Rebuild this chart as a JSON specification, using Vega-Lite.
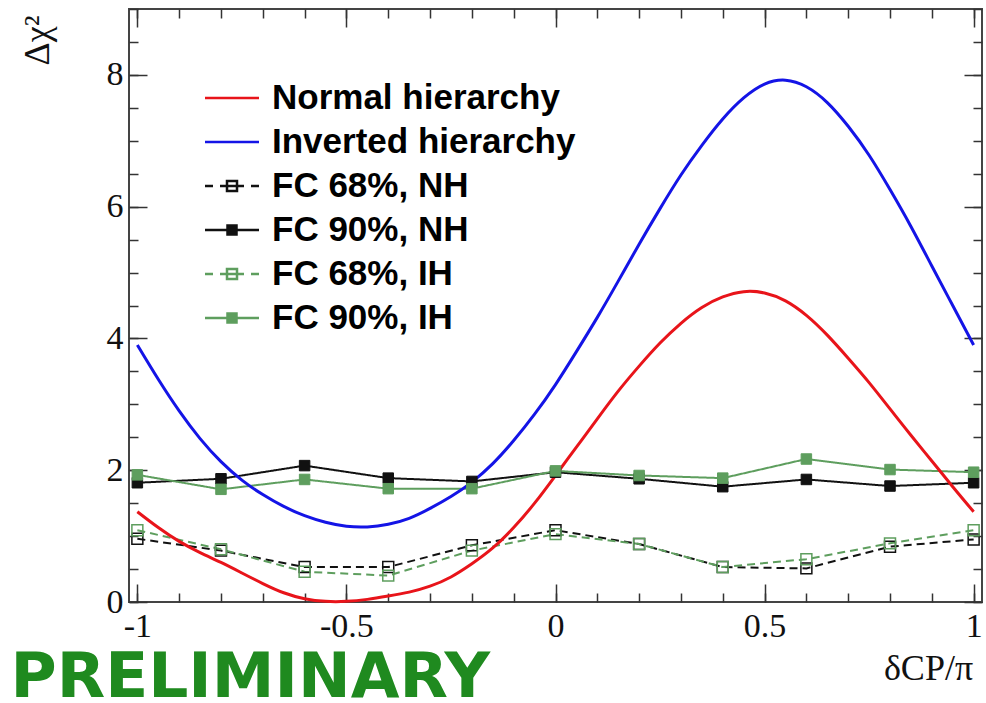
{
  "$schema": "https://vega.github.io/schema/vega-lite/v6.json",
  "width": 853,
  "height": 593,
  "autosize": "none",
  "padding": {"left": 129, "top": 9, "right": 4, "bottom": 101},
  "background": "white",
  "config": {
    "view": {"stroke": "#444", "strokeWidth": 2},
    "axis": {"grid": false, "domain": false, "tickColor": "#333", "tickWidth": 1.5}
  },
  "datasets": {
    "curves": [
      {"x": -1.0, "y": 1.37, "series": "Normal hierarchy"},
      {"x": -0.95, "y": 1.13, "series": "Normal hierarchy"},
      {"x": -0.9, "y": 0.92, "series": "Normal hierarchy"},
      {"x": -0.85, "y": 0.75, "series": "Normal hierarchy"},
      {"x": -0.8, "y": 0.6, "series": "Normal hierarchy"},
      {"x": -0.75, "y": 0.44, "series": "Normal hierarchy"},
      {"x": -0.7, "y": 0.28, "series": "Normal hierarchy"},
      {"x": -0.65, "y": 0.14, "series": "Normal hierarchy"},
      {"x": -0.6, "y": 0.05, "series": "Normal hierarchy"},
      {"x": -0.55, "y": 0.01, "series": "Normal hierarchy"},
      {"x": -0.5, "y": 0.01, "series": "Normal hierarchy"},
      {"x": -0.45, "y": 0.04, "series": "Normal hierarchy"},
      {"x": -0.4, "y": 0.09, "series": "Normal hierarchy"},
      {"x": -0.35, "y": 0.15, "series": "Normal hierarchy"},
      {"x": -0.3, "y": 0.24, "series": "Normal hierarchy"},
      {"x": -0.25, "y": 0.38, "series": "Normal hierarchy"},
      {"x": -0.2, "y": 0.58, "series": "Normal hierarchy"},
      {"x": -0.15, "y": 0.82, "series": "Normal hierarchy"},
      {"x": -0.1, "y": 1.13, "series": "Normal hierarchy"},
      {"x": -0.05, "y": 1.5, "series": "Normal hierarchy"},
      {"x": 0.0, "y": 1.92, "series": "Normal hierarchy"},
      {"x": 0.05, "y": 2.35, "series": "Normal hierarchy"},
      {"x": 0.1, "y": 2.78, "series": "Normal hierarchy"},
      {"x": 0.15, "y": 3.2, "series": "Normal hierarchy"},
      {"x": 0.2, "y": 3.58, "series": "Normal hierarchy"},
      {"x": 0.25, "y": 3.93, "series": "Normal hierarchy"},
      {"x": 0.3, "y": 4.23, "series": "Normal hierarchy"},
      {"x": 0.35, "y": 4.47, "series": "Normal hierarchy"},
      {"x": 0.4, "y": 4.63, "series": "Normal hierarchy"},
      {"x": 0.45, "y": 4.71, "series": "Normal hierarchy"},
      {"x": 0.5, "y": 4.69, "series": "Normal hierarchy"},
      {"x": 0.55, "y": 4.57, "series": "Normal hierarchy"},
      {"x": 0.6, "y": 4.35, "series": "Normal hierarchy"},
      {"x": 0.65, "y": 4.05, "series": "Normal hierarchy"},
      {"x": 0.7, "y": 3.7, "series": "Normal hierarchy"},
      {"x": 0.75, "y": 3.33, "series": "Normal hierarchy"},
      {"x": 0.8, "y": 2.93, "series": "Normal hierarchy"},
      {"x": 0.85, "y": 2.53, "series": "Normal hierarchy"},
      {"x": 0.9, "y": 2.14, "series": "Normal hierarchy"},
      {"x": 0.95, "y": 1.75, "series": "Normal hierarchy"},
      {"x": 1.0, "y": 1.37, "series": "Normal hierarchy"},
      {"x": -1.0, "y": 3.9, "series": "Inverted hierarchy"},
      {"x": -0.95, "y": 3.38, "series": "Inverted hierarchy"},
      {"x": -0.9, "y": 2.9, "series": "Inverted hierarchy"},
      {"x": -0.85, "y": 2.48, "series": "Inverted hierarchy"},
      {"x": -0.8, "y": 2.13, "series": "Inverted hierarchy"},
      {"x": -0.75, "y": 1.85, "series": "Inverted hierarchy"},
      {"x": -0.7, "y": 1.63, "series": "Inverted hierarchy"},
      {"x": -0.65, "y": 1.45, "series": "Inverted hierarchy"},
      {"x": -0.6, "y": 1.31, "series": "Inverted hierarchy"},
      {"x": -0.55, "y": 1.21, "series": "Inverted hierarchy"},
      {"x": -0.5, "y": 1.15, "series": "Inverted hierarchy"},
      {"x": -0.45, "y": 1.14, "series": "Inverted hierarchy"},
      {"x": -0.4, "y": 1.18, "series": "Inverted hierarchy"},
      {"x": -0.35, "y": 1.27, "series": "Inverted hierarchy"},
      {"x": -0.3, "y": 1.42, "series": "Inverted hierarchy"},
      {"x": -0.25, "y": 1.6, "series": "Inverted hierarchy"},
      {"x": -0.2, "y": 1.82, "series": "Inverted hierarchy"},
      {"x": -0.15, "y": 2.1, "series": "Inverted hierarchy"},
      {"x": -0.1, "y": 2.45, "series": "Inverted hierarchy"},
      {"x": -0.05, "y": 2.85, "series": "Inverted hierarchy"},
      {"x": 0.0, "y": 3.3, "series": "Inverted hierarchy"},
      {"x": 0.05, "y": 3.8, "series": "Inverted hierarchy"},
      {"x": 0.1, "y": 4.32, "series": "Inverted hierarchy"},
      {"x": 0.15, "y": 4.87, "series": "Inverted hierarchy"},
      {"x": 0.2, "y": 5.43, "series": "Inverted hierarchy"},
      {"x": 0.25, "y": 5.97, "series": "Inverted hierarchy"},
      {"x": 0.3, "y": 6.48, "series": "Inverted hierarchy"},
      {"x": 0.35, "y": 6.93, "series": "Inverted hierarchy"},
      {"x": 0.4, "y": 7.33, "series": "Inverted hierarchy"},
      {"x": 0.45, "y": 7.65, "series": "Inverted hierarchy"},
      {"x": 0.5, "y": 7.86, "series": "Inverted hierarchy"},
      {"x": 0.55, "y": 7.92, "series": "Inverted hierarchy"},
      {"x": 0.6, "y": 7.82, "series": "Inverted hierarchy"},
      {"x": 0.65, "y": 7.58, "series": "Inverted hierarchy"},
      {"x": 0.7, "y": 7.22, "series": "Inverted hierarchy"},
      {"x": 0.75, "y": 6.78, "series": "Inverted hierarchy"},
      {"x": 0.8, "y": 6.26, "series": "Inverted hierarchy"},
      {"x": 0.85, "y": 5.7, "series": "Inverted hierarchy"},
      {"x": 0.9, "y": 5.1, "series": "Inverted hierarchy"},
      {"x": 0.95, "y": 4.5, "series": "Inverted hierarchy"},
      {"x": 1.0, "y": 3.9, "series": "Inverted hierarchy"}
    ],
    "fc": [
      {"x": -1.0, "y": 0.96, "series": "FC 68%, NH"},
      {"x": -0.8, "y": 0.78, "series": "FC 68%, NH"},
      {"x": -0.6, "y": 0.53, "series": "FC 68%, NH"},
      {"x": -0.4, "y": 0.53, "series": "FC 68%, NH"},
      {"x": -0.2, "y": 0.86, "series": "FC 68%, NH"},
      {"x": 0.0, "y": 1.09, "series": "FC 68%, NH"},
      {"x": 0.2, "y": 0.88, "series": "FC 68%, NH"},
      {"x": 0.4, "y": 0.53, "series": "FC 68%, NH"},
      {"x": 0.6, "y": 0.51, "series": "FC 68%, NH"},
      {"x": 0.8, "y": 0.84, "series": "FC 68%, NH"},
      {"x": 1.0, "y": 0.95, "series": "FC 68%, NH"},
      {"x": -1.0, "y": 1.81, "series": "FC 90%, NH"},
      {"x": -0.8, "y": 1.87, "series": "FC 90%, NH"},
      {"x": -0.6, "y": 2.07, "series": "FC 90%, NH"},
      {"x": -0.4, "y": 1.88, "series": "FC 90%, NH"},
      {"x": -0.2, "y": 1.83, "series": "FC 90%, NH"},
      {"x": 0.0, "y": 1.97, "series": "FC 90%, NH"},
      {"x": 0.2, "y": 1.87, "series": "FC 90%, NH"},
      {"x": 0.4, "y": 1.75, "series": "FC 90%, NH"},
      {"x": 0.6, "y": 1.86, "series": "FC 90%, NH"},
      {"x": 0.8, "y": 1.76, "series": "FC 90%, NH"},
      {"x": 1.0, "y": 1.81, "series": "FC 90%, NH"},
      {"x": -1.0, "y": 1.09, "series": "FC 68%, IH"},
      {"x": -0.8, "y": 0.8, "series": "FC 68%, IH"},
      {"x": -0.6, "y": 0.46, "series": "FC 68%, IH"},
      {"x": -0.4, "y": 0.4, "series": "FC 68%, IH"},
      {"x": -0.2, "y": 0.78, "series": "FC 68%, IH"},
      {"x": 0.0, "y": 1.03, "series": "FC 68%, IH"},
      {"x": 0.2, "y": 0.88, "series": "FC 68%, IH"},
      {"x": 0.4, "y": 0.53, "series": "FC 68%, IH"},
      {"x": 0.6, "y": 0.65, "series": "FC 68%, IH"},
      {"x": 0.8, "y": 0.89, "series": "FC 68%, IH"},
      {"x": 1.0, "y": 1.09, "series": "FC 68%, IH"},
      {"x": -1.0, "y": 1.93, "series": "FC 90%, IH"},
      {"x": -0.8, "y": 1.71, "series": "FC 90%, IH"},
      {"x": -0.6, "y": 1.86, "series": "FC 90%, IH"},
      {"x": -0.4, "y": 1.72, "series": "FC 90%, IH"},
      {"x": -0.2, "y": 1.72, "series": "FC 90%, IH"},
      {"x": 0.0, "y": 1.99, "series": "FC 90%, IH"},
      {"x": 0.2, "y": 1.92, "series": "FC 90%, IH"},
      {"x": 0.4, "y": 1.88, "series": "FC 90%, IH"},
      {"x": 0.6, "y": 2.17, "series": "FC 90%, IH"},
      {"x": 0.8, "y": 2.01, "series": "FC 90%, IH"},
      {"x": 1.0, "y": 1.97, "series": "FC 90%, IH"}
    ]
  },
  "resolve": {"axis": {"x": "independent", "y": "independent"}},
  "layer": [
    {
      "data": {"name": "fc"},
      "mark": {"type": "line", "strokeWidth": 2},
      "encoding": {
        "x": {"field": "x", "type": "quantitative", "scale": {"domain": [-1.02, 1.02], "nice": false, "zero": false},
          "axis": {"orient": "bottom", "values": [-1, -0.9, -0.8, -0.7, -0.6, -0.5, -0.4, -0.3, -0.2, -0.1, 0, 0.1, 0.2, 0.3, 0.4, 0.5, 0.6, 0.7, 0.8, 0.9, 1], "tickSize": -9, "labels": false, "domain": false,
            "title": "PRELIMINARY", "titleX": -119, "titleY": 94, "titleAlign": "left", "titleBaseline": "alphabetic", "titleAngle": 0,
            "titleFont": "DejaVu Sans", "titleFontSize": 63, "titleFontWeight": "bold", "titleColor": "#1f8a1f"}},
        "y": {"field": "y", "type": "quantitative", "scale": {"domain": [0, 9], "nice": false, "zero": false},
          "axis": {"orient": "left", "values": [0, 0.5, 1, 1.5, 2, 2.5, 3, 3.5, 4, 4.5, 5, 5.5, 6, 6.5, 7, 7.5, 8, 8.5, 9], "tickSize": -9, "labels": false, "domain": false, "title": null}},
        "stroke": {"field": "series", "type": "nominal",
          "scale": {"domain": ["FC 68%, NH", "FC 90%, NH", "FC 68%, IH", "FC 90%, IH"], "range": ["#111111", "#111111", "#5e9e5e", "#5e9e5e"]}, "legend": null},
        "strokeDash": {"field": "series", "type": "nominal",
          "scale": {"domain": ["FC 68%, NH", "FC 90%, NH", "FC 68%, IH", "FC 90%, IH"], "range": [[8, 5], [1, 0], [8, 5], [1, 0]]}, "legend": null}
      }
    },
    {
      "data": {"name": "curves"},
      "mark": {"type": "line", "strokeWidth": 3, "interpolate": "natural"},
      "encoding": {
        "x": {"field": "x", "type": "quantitative", "scale": {"domain": [-1.02, 1.02], "nice": false, "zero": false},
          "axis": {"orient": "bottom", "values": [-1, -0.5, 0, 0.5, 1], "tickSize": -18, "labelPadding": 25, "domain": false,
            "labelExpr": "'' + datum.value", "labelFont": "Liberation Serif", "labelFontSize": 34, "labelColor": "#111", "labelFlush": false,
            "title": "δCP/π", "titleX": 799, "titleY": 66, "titleAlign": "center", "titleBaseline": "middle", "titleAngle": 0,
            "titleFont": "Liberation Serif", "titleFontSize": 36, "titleFontWeight": "normal", "titleColor": "#111"}},
        "y": {"field": "y", "type": "quantitative", "scale": {"domain": [0, 9], "nice": false, "zero": false},
          "axis": {"orient": "left", "values": [0, 2, 4, 6, 8], "tickSize": -18, "labelPadding": 24, "domain": false,
            "labelExpr": "'' + datum.value", "labelFont": "Liberation Serif", "labelFontSize": 34, "labelColor": "#111", "labelFlush": false,
            "title": "Δχ²", "titleX": -92, "titleY": 31, "titleAlign": "center", "titleBaseline": "middle", "titleAngle": -90,
            "titleFont": "Liberation Serif", "titleFontSize": 36, "titleFontWeight": "normal", "titleColor": "#111"}},
        "color": {"field": "series", "type": "nominal",
          "scale": {"domain": ["Normal hierarchy", "Inverted hierarchy", "FC 68%, NH", "FC 90%, NH", "FC 68%, IH", "FC 90%, IH"],
            "range": ["#e8141a", "#1414e6", "#111111", "#111111", "#5e9e5e", "#5e9e5e"]},
          "legend": {
            "orient": "none", "legendX": 85.5, "legendY": 71.5, "title": null,
            "labelFont": "Liberation Sans", "labelFontWeight": "bold", "labelFontSize": 35, "labelColor": "#000", "labelLimit": 600,
            "symbolType": "stroke", "symbolSize": 100, "symbolStrokeWidth": 2.5, "labelOffset": 22.5, "rowPadding": 8,
            "encode": {"symbols": {"update": {
              "shape": {"signal": "indexof(datum.value, 'hierarchy') >= 0 ? 'M-5.4,0H5.4' : indexof(datum.value, '68') >= 0 ? 'M-5.4,0H-3.8M-2.4,0H2.4M3.8,0H5.4M-1,-1H1V1H-1Z' : 'M-5.4,0H5.4M-0.9,-0.9H0.9V0.9H-0.9Z'"},
              "fill": {"signal": "datum.value == 'FC 90%, NH' ? '#111111' : datum.value == 'FC 90%, IH' ? '#5e9e5e' : 'transparent'"}
            }}}
          }}
      }
    },
    {
      "data": {"name": "fc"},
      "transform": [{"filter": "indexof(datum.series, '90%') >= 0"}],
      "mark": {"type": "point", "shape": "square", "filled": true, "size": 110, "strokeWidth": 1, "opacity": 1},
      "encoding": {
        "x": {"field": "x", "type": "quantitative", "scale": {"domain": [-1.02, 1.02], "nice": false, "zero": false},
          "axis": {"orient": "top", "values": [-1, -0.5, 0, 0.5, 1], "tickSize": -18, "labels": false, "domain": false, "title": null}},
        "y": {"field": "y", "type": "quantitative", "scale": {"domain": [0, 9], "nice": false, "zero": false},
          "axis": {"orient": "right", "values": [0, 2, 4, 6, 8], "tickSize": -18, "labels": false, "domain": false, "title": null}},
        "fill": {"field": "series", "type": "nominal",
          "scale": {"domain": ["FC 68%, NH", "FC 90%, NH", "FC 68%, IH", "FC 90%, IH"], "range": ["#111111", "#111111", "#5e9e5e", "#5e9e5e"]}, "legend": null},
        "stroke": {"field": "series", "type": "nominal",
          "scale": {"domain": ["FC 68%, NH", "FC 90%, NH", "FC 68%, IH", "FC 90%, IH"], "range": ["#111111", "#111111", "#5e9e5e", "#5e9e5e"]}, "legend": null}
      }
    },
    {
      "data": {"name": "fc"},
      "transform": [{"filter": "indexof(datum.series, '68%') >= 0"}],
      "mark": {"type": "point", "shape": "square", "filled": false, "size": 120, "strokeWidth": 1.5, "opacity": 1},
      "encoding": {
        "x": {"field": "x", "type": "quantitative", "scale": {"domain": [-1.02, 1.02], "nice": false, "zero": false},
          "axis": {"orient": "top", "values": [-1, -0.9, -0.8, -0.7, -0.6, -0.5, -0.4, -0.3, -0.2, -0.1, 0, 0.1, 0.2, 0.3, 0.4, 0.5, 0.6, 0.7, 0.8, 0.9, 1], "tickSize": -9, "labels": false, "domain": false, "title": null}},
        "y": {"field": "y", "type": "quantitative", "scale": {"domain": [0, 9], "nice": false, "zero": false},
          "axis": {"orient": "right", "values": [0, 0.5, 1, 1.5, 2, 2.5, 3, 3.5, 4, 4.5, 5, 5.5, 6, 6.5, 7, 7.5, 8, 8.5, 9], "tickSize": -9, "labels": false, "domain": false, "title": null}},
        "stroke": {"field": "series", "type": "nominal",
          "scale": {"domain": ["FC 68%, NH", "FC 90%, NH", "FC 68%, IH", "FC 90%, IH"], "range": ["#111111", "#111111", "#5e9e5e", "#5e9e5e"]}, "legend": null}
      }
    }
  ]
}
